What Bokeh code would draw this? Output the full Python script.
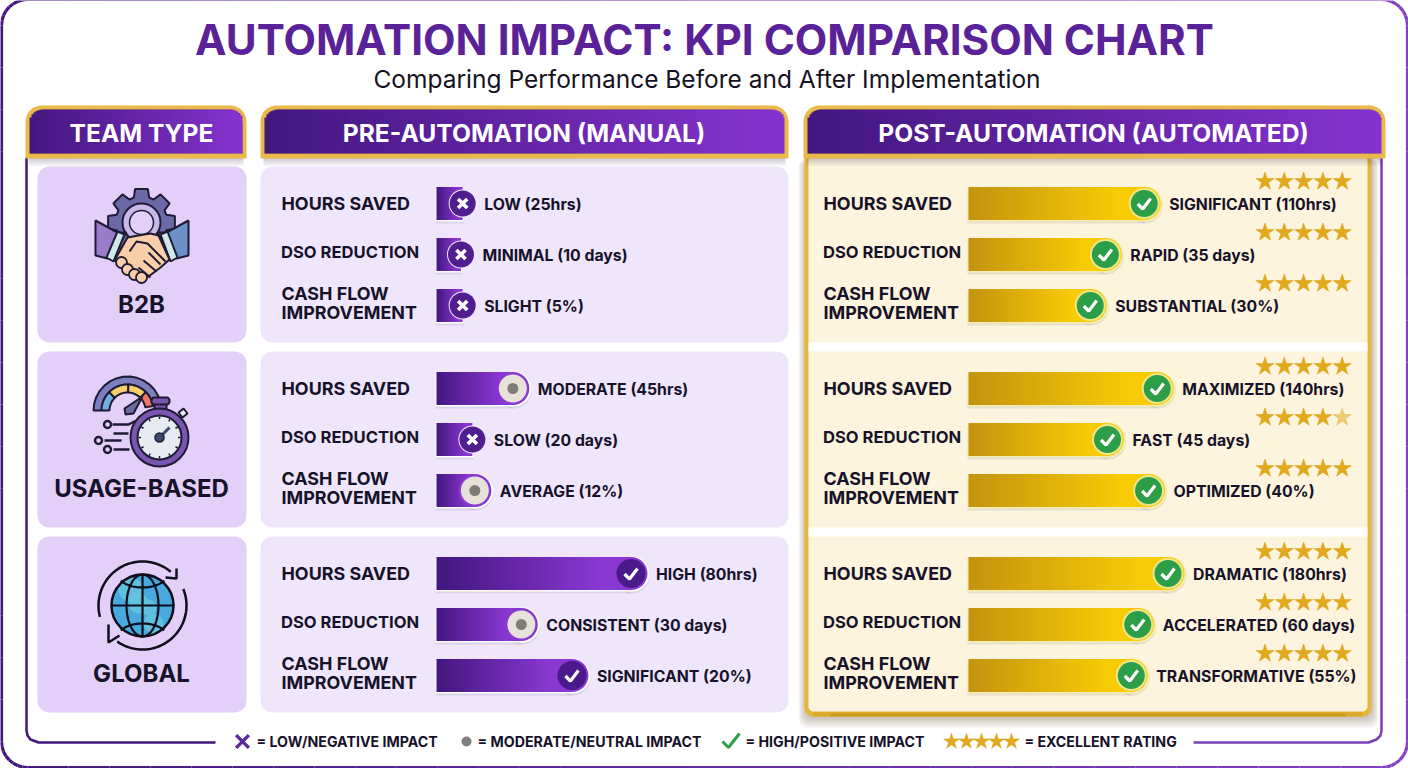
import math
from bokeh.core.properties import value
from bokeh.embed import file_html
from bokeh.models import Range1d
from bokeh.plotting import figure
from bokeh.resources import INLINE

# ---------- data ----------
TITLE = "AUTOMATION IMPACT: KPI COMPARISON CHART"
SUBTITLE = "Comparing Performance Before and After Implementation"
HEADERS = ["TEAM TYPE", "PRE-AUTOMATION (MANUAL)", "POST-AUTOMATION (AUTOMATED)"]
TEAMS = ["B2B", "USAGE-BASED", "GLOBAL"]
METRIC_LINES = [["HOURS SAVED"], ["DSO REDUCTION"], ["CASH FLOW", "IMPROVEMENT"]]

PRE_LABELS = ["LOW (25hrs)", "MINIMAL (10 days)", "SLIGHT (5%)",
              "MODERATE (45hrs)", "SLOW (20 days)", "AVERAGE (12%)",
              "HIGH (80hrs)", "CONSISTENT (30 days)", "SIGNIFICANT (20%)"]
# bar fill as drawn, 0-100 of the longest pre-automation bar
PRE_FILL = [12.4, 11.6, 12.4, 44, 17, 26, 100, 48, 72]
PRE_STATUS = ["x", "x", "x", "o", "x", "o", "check", "o", "check"]

POST_LABELS = ["SIGNIFICANT (110hrs)", "RAPID (35 days)", "SUBSTANTIAL (30%)",
               "MAXIMIZED (140hrs)", "FAST (45 days)", "OPTIMIZED (40%)",
               "DRAMATIC (180hrs)", "ACCELERATED (60 days)", "TRANSFORMATIVE (55%)"]
# bar fill as drawn, 0-100 of the longest post-automation bar
POST_FILL = [89, 71, 64, 95, 72, 91, 100, 86, 83]
POST_RATING = [5, 5, 5, 5, 4.5, 5, 5, 5, 5]

LEGEND_TEXTS = ["= LOW/NEGATIVE IMPACT", "= MODERATE/NEUTRAL IMPACT",
                "= HIGH/POSITIVE IMPACT", "= EXCELLENT RATING"]

# ---------- layout ----------
FONT = value("Inter")
INK = "#17122a"
PRE_X0, PRE_K = 436, 2.11
POST_X0, POST_K = 968, 2.16
CELL_TOPS = [166, 351, 536]
BAR_OFF = [37, 88, 139]
STAR_OFF = [15, 66, 117]
W, H = 1408, 768

p = figure(width=W, height=H, x_range=Range1d(0, W), y_range=Range1d(H, 0),
           x_axis_type=None, y_axis_type=None, output_backend="svg",
           toolbar_location=None, min_border=0, outline_line_color=None,
           background_fill_color="white", border_fill_color="white")
p.grid.visible = False
p.extra_x_ranges = {
    "pre": Range1d((0 - PRE_X0) / PRE_K, (W - PRE_X0) / PRE_K),
    "post": Range1d((0 - POST_X0) / POST_K, (W - POST_X0) / POST_K),
}


def hex2rgb(c):
    return tuple(int(c[i:i + 2], 16) for i in (1, 3, 5))


def mix(c0, c1, t):
    a, b = hex2rgb(c0), hex2rgb(c1)
    return "#%02x%02x%02x" % tuple(round(a[i] + (b[i] - a[i]) * t) for i in range(3))


def rr_path(x0, y0, x1, y1, tl, tr=None, br=None, bl=None):
    tr = tl if tr is None else tr
    br = tl if br is None else br
    bl = tl if bl is None else bl
    xs, ys = [], []

    def corner(cx, cy, r, a0):
        for i in range(9):
            a = math.radians(a0 + i * 90 / 8)
            xs.append(cx + r * math.cos(a))
            ys.append(cy + r * math.sin(a))
    corner(x0 + tl, y0 + tl, tl, 180)
    corner(x1 - tr, y0 + tr, tr, 270)
    corner(x1 - br, y1 - br, br, 0)
    corner(x0 + bl, y1 - bl, bl, 90)
    return xs, ys


def rrect(x0, y0, x1, y1, r, fill=None, line=None, lw=1, alpha=1.0, **kw):
    xs, ys = rr_path(x0, y0, x1, y1, r, kw.get("tr"), kw.get("br"), kw.get("bl"))
    p.patch(xs, ys, fill_color=fill if fill else None, fill_alpha=alpha if fill else 0,
            line_color=line if line else None, line_width=lw)


def header_grad(x0, y0, x1, y1, r, c0, c1):
    left, right, top, col = [], [], [], []
    x = x0
    step = 2
    while x < x1:
        mid = x + step / 2
        d = min(mid - x0, x1 - mid)
        t = y0
        if d < r:
            t = y0 + r - math.sqrt(max(r * r - (r - d) ** 2, 0))
        left.append(x)
        right.append(min(x + step + 1, x1))
        top.append(t)
        col.append(mix(c0, c1, (mid - x0) / (x1 - x0)))
        x += step
    p.quad(left=left, right=right, top=top, bottom=[y1] * len(left), fill_color=col, line_color=None)


def stars(xs, ys, alphas, size=19):
    p.scatter(xs, ys, marker="star", size=size, fill_color="#E3A91C", fill_alpha=alphas,
              line_color="#D99F18", line_alpha=alphas, line_width=0.5)


# ---------- outer frames ----------
fx, fy = rr_path(1, -1, 1407, 767, 26)
fx.append(fx[0])
fy.append(fy[0])
seg_x, seg_y, seg_c = [], [], []
for i in range(len(fx) - 1):
    n = max(1, int(math.hypot(fx[i + 1] - fx[i], fy[i + 1] - fy[i]) / 40))
    for j in range(n):
        xa = fx[i] + (fx[i + 1] - fx[i]) * j / n
        xb = fx[i] + (fx[i + 1] - fx[i]) * (j + 1) / n
        ya = fy[i] + (fy[i + 1] - fy[i]) * j / n
        yb = fy[i] + (fy[i + 1] - fy[i]) * (j + 1) / n
        seg_x.append([xa, xb])
        seg_y.append([ya, yb])
        seg_c.append(mix("#43177a", "#8340c4", (xa + xb) / 2 / W))
p.multi_line(seg_x, seg_y, line_color=seg_c, line_width=3.2)
p.line([26, 26, 27, 30, 38, 215], [157, 730, 735, 739, 742, 742], line_color="#43177a", line_width=2.5)
p.line([1193, 1368, 1376, 1380, 1381, 1381], [742, 742, 739, 735, 730, 157], line_color="#7a3eb8", line_width=2.5)

# ---------- post panel ----------
for i in range(7):
    rrect(804 - i, 157, 1372 + i, 718 + 1.6 * i, 10, fill="#5a4a20", alpha=0.05)
rrect(804, 150, 1371, 716, 9, fill="#E6B63C")
rrect(808, 155, 1367, 711, 5, fill="#FCF4DC")
for top in CELL_TOPS[1:]:
    p.quad(left=[808], right=[1367], top=[top - 9], bottom=[top], fill_color="white", line_color=None)
p.quad(left=[813, 830], right=[1362, 1345], top=[712, 713], bottom=[716, 716],
       fill_color=["#d9a92c", "#c99a20"], line_color=None)

# ---------- cells ----------
for top in CELL_TOPS:
    rrect(37, top, 246, top + 176, 12, fill="#E3CFF8")
    rrect(260, top, 788, top + 176, 12, fill="#EFE6FB")

# ---------- headers ----------
HEAD_X = [(25, 246), (260, 788), (803, 1385)]
HEAD_TEXT_X = [141, 523.5, 1093]
for (x0, x1), text in zip(HEAD_X, HEADERS):
    for i in range(5):
        p.quad(left=[x0 + 3], right=[x1 - 3], top=[157], bottom=[159 + 1.6 * i],
               fill_color="#40304f", fill_alpha=0.05, line_color=None)
    xs, ys = rr_path(x0, 105, x1, 158, 16, 16, 0, 0)
    p.patch(xs, ys, fill_color="#E9B949", line_color=None)
    header_grad(x0 + 4, 109, x1 - 4, 153, 13, "#43177f", "#8533cf")
p.text(HEAD_TEXT_X, [132] * 3, text=HEADERS, text_color="white",
       text_font=FONT, text_font_style="bold", text_font_size="24.6px",
       text_align="center", text_baseline="middle")

# ---------- title ----------
p.text([704], [39], text=[TITLE], text_color="#5a2298", text_font=FONT, text_font_style="bold",
       text_font_size="42.2px", text_align="center", text_baseline="middle")
p.text([706.5], [78], text=[SUBTITLE], text_color="#15121f", text_font=FONT, text_font_size="24.5px",
       text_align="center", text_baseline="middle")

# ---------- row labels ----------
lab_x, lab_y, lab_t = [], [], []
dso_x, dso_y, dso_t = [], [], []
for top in CELL_TOPS:
    for x in (281, 823):
        lab_x += [x, x, x]
        lab_y += [top + 37, top + 127, top + 146]
        lab_t += [METRIC_LINES[0][0], METRIC_LINES[2][0], METRIC_LINES[2][1]]
        dso_x.append(x - 0.5)
        dso_y.append(top + 85)
        dso_t.append(METRIC_LINES[1][0])
p.text(lab_x, lab_y, text=lab_t, text_color=INK, text_font=FONT, text_font_style="bold",
       text_font_size="17.9px", text_align="left", text_baseline="middle")
p.text(dso_x, dso_y, text=dso_t, text_color=INK, text_font=FONT, text_font_style="bold",
       text_font_size="16.6px", text_align="left", text_baseline="middle")

p.text([141] * 3, [304, 488, 673], text=TEAMS, text_color=INK, text_font=FONT, text_font_style="bold",
       text_font_size="24px", text_align="center", text_baseline="middle")


# ---------- bars ----------
def draw_bars(fills, labels, status, range_name, k, c0, c1, edge):
    R = 16.5
    for n, (v, lab, st) in enumerate(zip(fills, labels, status)):
        yc = CELL_TOPS[n // 3] + BAR_OFF[n % 3]
        capped = st != "x"
        end = v - R / k if capped else v
        # soft shadow and light rim
        for dy, col, al in [(3.5, "#3a2a50", 0.10), (1.5, edge, 1.0)]:
            p.quad(left=[-1 / k], right=[end + (0 if capped else 1.5 / k)], top=[yc - R + dy],
                   bottom=[yc + R + dy], fill_color=col, fill_alpha=al, line_color=None,
                   x_range_name=range_name)
            if capped:
                p.scatter([end + 1 / k], [yc + dy - 1], size=2 * R + 2, fill_color=col, fill_alpha=al,
                          line_color=None, x_range_name=range_name)
        # gradient body
        m = max(6, int(end * k / 2))
        left = [end * i / m for i in range(m)]
        right = [min(end * (i + 1) / m + 1.2 / k, end) for i in range(m)]
        cols = [mix(c0, c1, min(1, (i + 0.5) / m / 0.85)) for i in range(m)]
        p.quad(left=left, right=right, top=[yc - R] * m, bottom=[yc + R] * m, fill_color=cols,
               line_color=None, x_range_name=range_name)
        if capped:
            p.scatter([end], [yc], size=2 * R, fill_color=cols[-1], line_color=None,
                      x_range_name=range_name)
        # status knob
        if range_name == "post":
            cx = end
            p.scatter([cx], [yc], size=31, fill_color="#EFE58A", line_color=None, x_range_name=range_name)
            p.scatter([cx], [yc], size=27, fill_color="#2C9E47", line_color=None, x_range_name=range_name)
            p.line([cx - 6.5 / k, cx - 1.5 / k, cx + 6.5 / k], [yc + 0.5, yc + 5.5, yc - 5], line_color="white",
                   line_width=3.2, x_range_name=range_name)
        elif st == "x":
            p.scatter([v], [yc], size=28, fill_color="#EFE6FB", line_color=None, x_range_name=range_name)
            p.scatter([v], [yc], size=26, fill_color="#4f1f90", line_color=None, x_range_name=range_name)
            p.scatter([v], [yc], size=13, marker="x", line_color="white", line_width=3.6, x_range_name=range_name)
        elif st == "o":
            p.scatter([end], [yc], size=28, fill_color="#E6E2DA", line_color=None, x_range_name=range_name)
            p.scatter([end], [yc], size=11, fill_color="#7f7c78", line_color=None, x_range_name=range_name)
        else:
            p.scatter([end], [yc], size=29, fill_color="#4a1a8a", line_color=None, x_range_name=range_name)
            p.line([end - 6.5 / k, end - 1.5 / k, end + 6.5 / k], [yc + 0.5, yc + 5.5, yc - 5], line_color="white",
                   line_width=3.2, x_range_name=range_name)
        off = (13 + 8.5) if (st == "x" and range_name == "pre") else 8.5
        p.text([v], [yc + 0.5], text=[lab], x_offset=off, text_color=INK, text_font=FONT,
               text_font_style="bold", text_font_size="15.8px", text_align="left", text_baseline="middle",
               x_range_name=range_name)


draw_bars(PRE_FILL, PRE_LABELS, PRE_STATUS, "pre", PRE_K, "#43177f", "#8a38d2", "#ffffff")
draw_bars(POST_FILL, POST_LABELS, ["check"] * 9, "post", POST_K, "#C4930F", "#F7CB05", "#F6EDB0")

# ---------- stars ----------
sx, sy, sa = [], [], []
for n, rating in enumerate(POST_RATING):
    yc = CELL_TOPS[n // 3] + STAR_OFF[n % 3]
    for i in range(5):
        sx.append(1264.5 + 19.3 * i)
        sy.append(yc)
        sa.append(1.0 if i + 1 <= rating else 0.55)
stars(sx, sy, sa)

# ---------- icon: gear and handshake ----------
OUT = "#1f1b35"
gx, gy = 141, 222
pts_x, pts_y = [], []
teeth = 8
for t in range(teeth):
    base = 2 * math.pi * t / teeth - math.pi / 2
    for da, r in [(-0.30, 26), (-0.19, 34), (0.19, 34), (0.30, 26)]:
        pts_x.append(gx + r * math.cos(base + da))
        pts_y.append(gy + r * math.sin(base + da))
p.patch(pts_x, pts_y, fill_color="#6c6aa6", line_color=OUT, line_width=2)
p.scatter([gx], [gy], size=38, fill_color="#c9b8ea", line_color=OUT, line_width=2)
p.scatter([gx], [gy], size=24, fill_color="#e3cff8", line_color=OUT, line_width=1.5)
p.patch([95, 95, 107, 126, 117], [220, 255, 258, 232, 232], fill_color="#9a7cc8", line_color=OUT, line_width=2)
p.patch([188, 188, 176, 157, 166], [220, 255, 258, 232, 232], fill_color="#6e90c8", line_color=OUT, line_width=2)
p.patch([106, 113, 124, 117], [257, 261, 234, 231], fill_color="#cfe8e8", line_color=OUT, line_width=2)
p.patch([177, 170, 160, 167], [257, 261, 234, 231], fill_color="#cfe8e8", line_color=OUT, line_width=2)
p.patch([114, 127, 138, 150, 158, 169, 160, 148, 142, 130, 122],
        [260, 237, 235, 233, 235, 259, 267, 276, 280, 276, 266],
        fill_color="#f8cfa8", line_color=OUT, line_width=2)
p.scatter([121, 127, 134, 141], [262, 269, 274, 277], size=11, fill_color="#f8cfa8", line_color=OUT, line_width=1.8)
p.multi_line([[129, 136, 147, 165], [148, 160], [143, 156], [138, 150]],
             [[251, 241, 243, 261], [252, 264], [260, 271], [267, 277]], line_color=OUT, line_width=2)

# ---------- icon: gauge and stopwatch ----------
gc = (127, 410)


def ring_seg(c, r0, r1, a0, a1, fill):
    n = 14
    aa = [math.radians(a0 + (a1 - a0) * i / n) for i in range(n + 1)]
    xs = [c[0] + r1 * math.cos(a) for a in aa] + [c[0] + r0 * math.cos(a) for a in reversed(aa)]
    ys = [c[1] + r1 * math.sin(a) for a in aa] + [c[1] + r0 * math.sin(a) for a in reversed(aa)]
    p.patch(xs, ys, fill_color=fill, line_color=OUT, line_width=2)


ring_seg(gc, 26, 34, 180, 345, "#7d7fbe")
ring_seg(gc, 18, 26, 180, 225, "#6fb0e2")
ring_seg(gc, 18, 26, 225, 272, "#f7cf6c")
ring_seg(gc, 18, 26, 272, 315, "#f7cf6c")
ring_seg(gc, 18, 26, 315, 350, "#e8785f")
p.patch([124, 142, 133, 125], [408, 396, 413, 414], fill_color="#6b6b9b", line_color=OUT, line_width=2)
p.multi_line([[112, 128, 134, 141], [113, 128], [104, 121], [113, 129]],
             [[424, 424, 421, 421], [433, 433], [440, 440], [449, 449]], line_color=OUT, line_width=2.5)
p.scatter([107, 98, 107], [424, 440, 449], size=7, fill_color="#e3cff8", line_color=OUT, line_width=2.5)
p.patch([178, 183, 187, 182], [412, 408, 413, 417], fill_color="#e8ecf2", line_color=OUT, line_width=2)
p.quad(left=[154], right=[166], top=[403], bottom=[411], fill_color="#7b55b0", line_color=OUT, line_width=2)
rrect(151, 397, 169, 404, 3, fill="#7b55b0", line=OUT, lw=2)
p.scatter([159], [437], size=58, fill_color="#7b55b0", line_color=OUT, line_width=2)
p.scatter([159], [437], size=44, fill_color="#e8ecf2", line_color=OUT, line_width=2)
tick_x, tick_y = [], []
for t in range(12):
    a = math.radians(30 * t)
    tick_x.append([159 + 18.5 * math.cos(a), 159 + 21 * math.cos(a)])
    tick_y.append([437 + 18.5 * math.sin(a), 437 + 21 * math.sin(a)])
p.multi_line(tick_x, tick_y, line_color=OUT, line_width=1.5)
p.line([159, 169], [437, 427], line_color="#3e4a6b", line_width=3)
p.scatter([159], [437], size=9, fill_color="#3e4a6b", line_color=OUT, line_width=1.5)

# ---------- icon: globe ----------
cx, cy, r = 142, 605, 31
p.scatter([cx], [cy], size=2 * r, fill_color="#47a9dd", line_color=None)
p.scatter([cx - 12, cx + 11, cx - 4, cx + 6], [cy - 16, cy + 18, cy - 2, cy + 2], size=[24, 20, 20, 16],
          fill_color="#67c6dd", fill_alpha=0.8, line_color=None)
p.scatter([cx], [cy], size=2 * r, fill_color=None, line_color="#0f0f1c", line_width=2.5)


def ellipse_pts(rx, ry, a0=0, a1=360, dy=0):
    n = 60
    return ([cx + rx * math.cos(math.radians(a0 + (a1 - a0) * i / n)) for i in range(n + 1)],
            [cy + dy + ry * math.sin(math.radians(a0 + (a1 - a0) * i / n)) for i in range(n + 1)])


ex, ey = ellipse_pts(16, r)
p.line(ex, ey, line_color="#0f0f1c", line_width=2.2)
p.multi_line([[cx, cx], [cx - r, cx + r]], [[cy - r, cy + r], [cy, cy]], line_color="#0f0f1c", line_width=2.2)
a1x, a1y = ellipse_pts(25, 14, 30, 150, dy=-32)
a2x, a2y = ellipse_pts(25, 14, 210, 330, dy=32)
p.multi_line([a1x, a2x], [a1y, a2y], line_color="#0f0f1c", line_width=2.2)
arc1x, arc1y = ellipse_pts(44, 44, 165, 310)
arc2x, arc2y = ellipse_pts(44, 44, -22, 125)
p.multi_line([arc1x, arc2x], [arc1y, arc2y], line_color="#0f0f1c", line_width=2.5)
p.multi_line([[165, 176, 176], [108, 108, 119]], [[577, 578, 568], [624, 642, 635]],
             line_color="#0f0f1c", line_width=2.5)

# ---------- legend ----------
LY = 741
p.scatter([242], [LY], marker="x", size=18, line_color="#5b2a9d", line_width=3.5)
p.scatter([466], [LY], size=10, fill_color="#7f7f7f", line_color=None)
p.line([722, 728, 739], [741, 747, 733], line_color="#2c9e47", line_width=3)
stars([951 + 15 * i for i in range(5)], [LY] * 5, [1.0] * 5, size=16.5)
p.text([256, 477, 745, 1024], [LY] * 4, text=LEGEND_TEXTS, text_color=INK, text_font=FONT,
       text_font_style="bold", text_font_size="14.2px", text_align="left", text_baseline="middle")

open("out.html", "w").write(file_html(p, INLINE))
